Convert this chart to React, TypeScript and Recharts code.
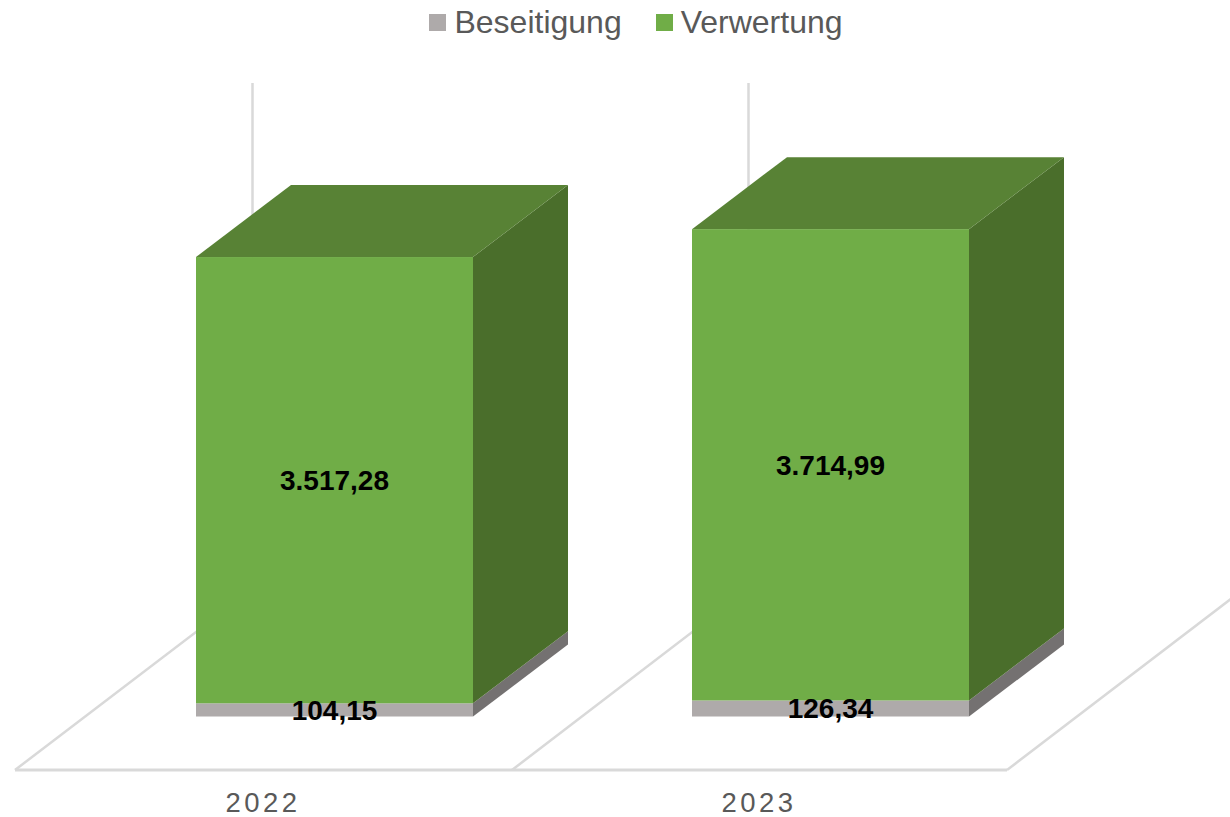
import React from 'react';
import { BarChart, Bar, XAxis, YAxis, Legend, LabelList, Customized } from 'recharts';

const years = ['2022', '2023'];
const beseitigung = [104.15, 126.34];
const verwertung = [3517.28, 3714.99];

const chartData = years.map((year, i) => ({
  year,
  Beseitigung: beseitigung[i],
  Verwertung: verwertung[i],
}));

const FONT = '"Liberation Sans", Arial, sans-serif';
const DEPTH_X = 95;
const DEPTH_Y = 72;

const fmt = (v: number) =>
  v.toLocaleString('de-DE', { minimumFractionDigits: 2, maximumFractionDigits: 2 });

// extruded bar: front rect, side face and optional lid
function Box3D(props: any) {
  const { x, y, width, height, fill, sideFill, topFill } = props;
  const r = x + width;
  const b = y + height;
  return (
    <g>
      <polygon
        points={`${r},${y} ${r + DEPTH_X},${y - DEPTH_Y} ${r + DEPTH_X},${b - DEPTH_Y} ${r},${b}`}
        fill={sideFill}
      />
      {topFill && (
        <polygon
          points={`${x},${y} ${x + DEPTH_X},${y - DEPTH_Y} ${r + DEPTH_X},${y - DEPTH_Y} ${r},${y}`}
          fill={topFill}
        />
      )}
      <rect x={x} y={y} width={width} height={height} fill={fill} />
    </g>
  );
}

// floor and back wall lines of the 3D plot
function Floor() {
  const line = { stroke: '#D9D9D9', fill: 'none' };
  return (
    <g>
      <line x1={15} y1={770} x2={1007} y2={770} strokeWidth={3} {...line} />
      <polyline points="15,770 252.5,589 252.5,83" strokeWidth={2.5} {...line} />
      <polyline points="512,770 748.5,589 748.5,83" strokeWidth={2.5} {...line} />
      <line x1={1007} y1={770} x2={1244} y2={589} strokeWidth={2.5} {...line} />
    </g>
  );
}

function YearTick(props: any) {
  const { x, y, payload } = props;
  return (
    <text
      x={x - 71}
      y={y + 87}
      textAnchor="middle"
      fontFamily={FONT}
      fontSize={27.5}
      letterSpacing={3.5}
      fill="#595959"
    >
      {payload.value}
    </text>
  );
}

function LegendBox(props: any) {
  const items = props.payload || [];
  return (
    <div
      style={{
        height: 46,
        paddingLeft: 42,
        display: 'flex',
        justifyContent: 'center',
        alignItems: 'flex-start',
        fontFamily: FONT,
        fontSize: 32,
        color: '#595959',
        lineHeight: '44px',
      }}
    >
      {items.map((it: any, i: number) => (
        <span key={it.value} style={{ display: 'flex', alignItems: 'center', marginLeft: i ? 34 : 0 }}>
          <span style={{ width: 17, height: 17, background: it.color, marginRight: 8 }} />
          {it.value}
        </span>
      ))}
    </div>
  );
}

export default function App() {
  return (
    <div style={{ position: 'absolute', left: 0, top: 0, width: 1230, height: 817, overflow: 'hidden' }}>
      <BarChart
        width={1230}
        height={817}
        data={chartData}
        margin={{ top: 163, right: 152, bottom: 0, left: 86 }}
        barSize={277}
      >
        <Customized component={Floor} />
        <XAxis dataKey="year" axisLine={false} tickLine={false} height={100.5} tick={<YearTick />} />
        <YAxis hide domain={[0, 4000]} />
        <Legend
          verticalAlign="top"
          content={<LegendBox />}
          wrapperStyle={{ left: 0, top: 0, width: 1230 }}
        />
        <Bar
          dataKey="Beseitigung"
          stackId="a"
          fill="#AEAAAA"
          isAnimationActive={false}
          shape={(p: any) => <Box3D {...p} sideFill="#747171" />}
        >
          <LabelList
            dataKey="Beseitigung"
            position="center"
            formatter={fmt}
            fontFamily={FONT}
            fontSize={28}
            fontWeight="bold"
            fill="#000000"
          />
        </Bar>
        <Bar
          dataKey="Verwertung"
          stackId="a"
          fill="#70AD47"
          isAnimationActive={false}
          shape={(p: any) => <Box3D {...p} sideFill="#4A6E2B" topFill="#588235" />}
        >
          <LabelList
            dataKey="Verwertung"
            position="center"
            formatter={fmt}
            fontFamily={FONT}
            fontSize={28}
            fontWeight="bold"
            fill="#000000"
          />
        </Bar>
      </BarChart>
    </div>
  );
}
